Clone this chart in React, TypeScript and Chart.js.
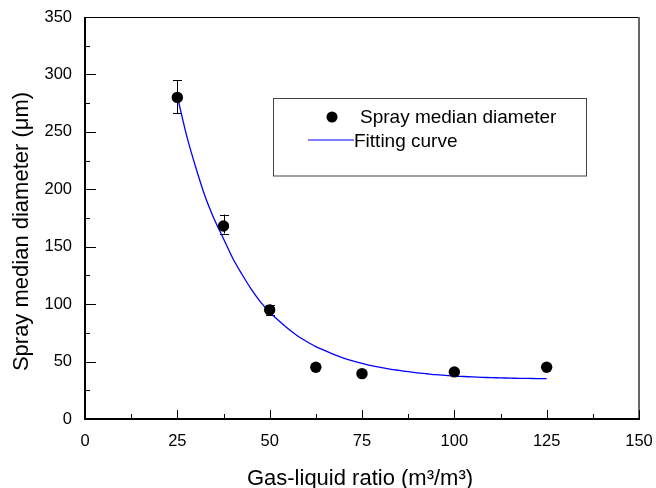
import React, { useEffect, useRef } from "react";
import { Chart, registerables } from "chart.js";

Chart.register(...registerables);

const measuredX = [25, 37.5, 50, 62.5, 75, 100, 125];
const measuredY = [280, 168, 95, 45, 39.5, 41, 45];
const errLow = [266, 161.5, 90.5, 45, 39.5, 39, 45];
const errHigh = [295, 178, 99.5, 45, 39.5, 43.5, 45];

const curveX = [25, 27.5, 30, 32.5, 35, 37.5, 40, 42.5, 45, 47.5, 50, 52.5, 55, 57.5, 60, 62.5, 65, 67.5, 70, 72.5, 75, 77.5, 80, 82.5, 85, 87.5, 90, 92.5, 95, 97.5, 100, 102.5, 105, 107.5, 110, 112.5, 115, 117.5, 120, 122.5, 125];
const curveY = [281, 247, 219, 194, 174, 157, 140, 126, 113, 102, 93, 85.5, 78.5, 72.5, 67.5, 63, 59.5, 56, 53, 50.5, 48.5, 46.5, 45, 43.5, 42.3, 41.2, 40.2, 39.4, 38.6, 38, 37.4, 37, 36.6, 36.3, 36, 35.8, 35.6, 35.4, 35.3, 35.2, 35.1];

const xTicks = [0, 25, 50, 75, 100, 125, 150];
const yTicks = [0, 50, 100, 150, 200, 250, 300, 350];

const xTitle = "Gas-liquid ratio (m\u00B3/m\u00B3)";
const yTitle = "Spray median diameter (\u03BCm)";
const legendLabels = ["Spray median diameter", "Fitting curve"];

const FONT = "'Liberation Sans', Arial, sans-serif";

const decorPlugin = {
  id: "decor",
  beforeDatasetsDraw(chart: any) {
    const { ctx } = chart;
    const xs = chart.scales.x;
    const ys = chart.scales.y;
    ctx.save();
    ctx.strokeStyle = "#000";
    ctx.lineWidth = 1;
    for (let i = 0; i < measuredX.length; i++) {
      if (errHigh[i] - errLow[i] < 0.5) continue;
      const px = Math.round(xs.getPixelForValue(measuredX[i])) + 0.5;
      const y1 = ys.getPixelForValue(errLow[i]);
      const y2 = ys.getPixelForValue(errHigh[i]);
      ctx.beginPath();
      ctx.moveTo(px, y1);
      ctx.lineTo(px, y2);
      ctx.moveTo(px - 4.5, Math.round(y1) + 0.5);
      ctx.lineTo(px + 4.5, Math.round(y1) + 0.5);
      ctx.moveTo(px - 4.5, Math.round(y2) + 0.5);
      ctx.lineTo(px + 4.5, Math.round(y2) + 0.5);
      ctx.stroke();
    }
    ctx.restore();
  },
  afterDraw(chart: any) {
    const { ctx, chartArea: a } = chart;
    const xs = chart.scales.x;
    const ys = chart.scales.y;
    ctx.save();
    // frame
    ctx.strokeStyle = "#000";
    ctx.lineWidth = 1;
    ctx.beginPath();
    ctx.moveTo(a.left, a.top + 0.5);
    ctx.lineTo(a.right, a.top + 0.5);
    ctx.stroke();
    ctx.strokeStyle = "#666";
    ctx.lineWidth = 2;
    ctx.beginPath();
    ctx.moveTo(a.right, a.top);
    ctx.lineTo(a.right, a.bottom);
    ctx.stroke();
    ctx.strokeStyle = "#000";
    ctx.lineWidth = 2;
    ctx.beginPath();
    ctx.moveTo(a.left, a.top);
    ctx.lineTo(a.left, a.bottom + 1);
    ctx.moveTo(a.left, a.bottom);
    ctx.lineTo(a.right + 1, a.bottom);
    ctx.stroke();
    // ticks
    ctx.lineWidth = 1;
    ctx.beginPath();
    for (let i = 0; i < yTicks.length; i++) {
      const py = Math.round(ys.getPixelForValue(yTicks[i])) + 0.5;
      ctx.moveTo(a.left, py);
      ctx.lineTo(a.left + 11, py);
      if (i < yTicks.length - 1) {
        const pm = Math.round(ys.getPixelForValue((yTicks[i] + yTicks[i + 1]) / 2)) + 0.5;
        ctx.moveTo(a.left, pm);
        ctx.lineTo(a.left + 5, pm);
      }
    }
    for (let i = 0; i < xTicks.length; i++) {
      const px = Math.round(xs.getPixelForValue(xTicks[i])) + 0.5;
      ctx.moveTo(px, a.bottom);
      ctx.lineTo(px, a.bottom - 9);
      if (i < xTicks.length - 1) {
        const pm = Math.round(xs.getPixelForValue((xTicks[i] + xTicks[i + 1]) / 2)) + 0.5;
        ctx.moveTo(pm, a.bottom);
        ctx.lineTo(pm, a.bottom - 5);
      }
    }
    ctx.stroke();
    // axis titles
    ctx.fillStyle = "#000";
    ctx.font = `22px ${FONT}`;
    ctx.textAlign = "center";
    ctx.textBaseline = "alphabetic";
    ctx.fillText(xTitle, (a.left + a.right) / 2 - 2, 485);
    ctx.save();
    ctx.translate(28, (a.top + a.bottom) / 2 + 13.5);
    ctx.rotate(-Math.PI / 2);
    ctx.fillText(yTitle, 0, 0);
    ctx.restore();
    // legend
    ctx.strokeStyle = "#444";
    ctx.lineWidth = 1;
    ctx.strokeRect(273.5, 98.5, 313, 77.5);
    ctx.fillStyle = "#000";
    ctx.beginPath();
    ctx.arc(332, 117, 5.5, 0, Math.PI * 2);
    ctx.fill();
    ctx.strokeStyle = "#0000ff";
    ctx.lineWidth = 1.2;
    ctx.beginPath();
    ctx.moveTo(308, 140);
    ctx.lineTo(354, 140);
    ctx.stroke();
    ctx.font = `19px ${FONT}`;
    ctx.textAlign = "left";
    ctx.fillStyle = "#000";
    ctx.fillText(legendLabels[0], 360, 123);
    ctx.fillText(legendLabels[1], 354, 147);
    ctx.restore();
  },
};

export default function App() {
  const ref = useRef<HTMLCanvasElement | null>(null);
  useEffect(() => {
    if (!ref.current) return;
    const chart = new Chart(ref.current, {
      type: "scatter",
      data: {
        datasets: [
          {
            label: legendLabels[1],
            data: curveX.map((x, i) => ({ x, y: curveY[i] })),
            showLine: true,
            borderColor: "#0000ff",
            borderWidth: 1.3,
            pointRadius: 0,
            tension: 0.3,
            fill: false,
            order: 2,
          },
          {
            label: legendLabels[0],
            data: measuredX.map((x, i) => ({ x, y: measuredY[i] })),
            backgroundColor: "#000",
            borderColor: "#000",
            pointRadius: 5.7,
            pointBorderWidth: 0,
            showLine: false,
            order: 1,
          },
        ],
      },
      options: {
        responsive: false,
        animation: false,
        events: [],
        layout: { padding: { top: 17, right: 17, left: 0, bottom: 0 } },
        plugins: { legend: { display: false }, tooltip: { enabled: false }, title: { display: false } },
        scales: {
          x: {
            type: "linear",
            min: 0,
            max: 150,
            afterFit: (s: any) => { s.height = 69; s.paddingLeft = 0; s.paddingRight = 0; },
            afterBuildTicks: (s: any) => { s.ticks = xTicks.map((v) => ({ value: v })); },
            grid: { display: false, drawTicks: false },
            border: { display: false },
            ticks: { color: "#000", padding: 13, font: { family: FONT, size: 16.5 } },
          },
          y: {
            type: "linear",
            min: 0,
            max: 350,
            afterFit: (s: any) => { s.width = 85; s.paddingTop = 0; s.paddingBottom = 0; },
            afterBuildTicks: (s: any) => { s.ticks = yTicks.map((v) => ({ value: v })); },
            grid: { display: false, drawTicks: false },
            border: { display: false },
            ticks: { color: "#000", padding: 13, font: { family: FONT, size: 16.5 } },
          },
        },
      },
      plugins: [decorPlugin],
    });
    return () => chart.destroy();
  }, []);
  return (
    <div style={{ position: "fixed", left: 0, top: 0, width: 656, height: 488, background: "#fff" }}>
      <canvas ref={ref} width={656} height={488} />
    </div>
  );
}
